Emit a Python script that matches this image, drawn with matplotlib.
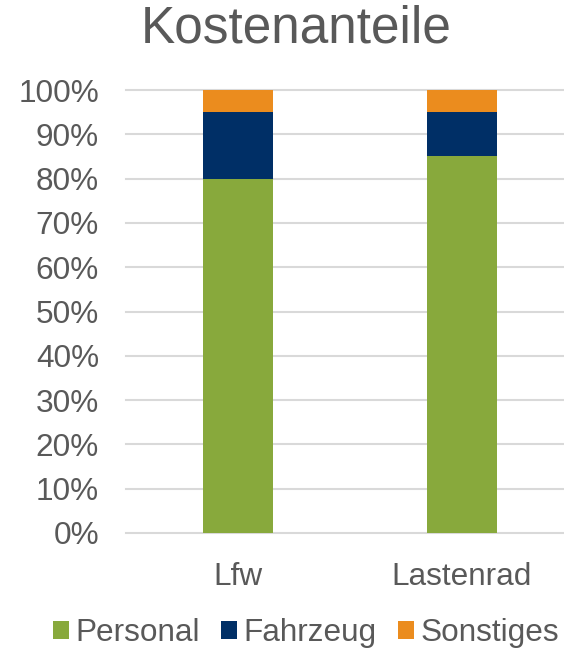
import matplotlib
matplotlib.use("Agg")
import matplotlib.pyplot as plt
from matplotlib.patches import Patch
from matplotlib.ticker import PercentFormatter

plt.rcParams['font.family'] = ['Liberation Sans', 'DejaVu Sans']

categories = ["Lfw", "Lastenrad"]
series_names = ["Personal", "Fahrzeug", "Sonstiges"]
personal = [0.80, 0.85]
fahrzeug = [0.15, 0.10]
sonstiges = [0.05, 0.05]
colors = ["#88A93C", "#002F66", "#EB8C1E"]
yticks = [0, 0.1, 0.2, 0.3, 0.4, 0.5, 0.6, 0.7, 0.8, 0.9, 1.0]

TXT = "#595959"
W, H = 564, 648
fig = plt.figure(figsize=(W / 100, H / 100), dpi=100)
ax = fig.add_axes([126 / W, 1 - 533 / H, 1 - 126 / W, (533 - 90) / H])

x = list(range(len(categories)))
bw = 0.3125
bottom = [0.0] * len(categories)
for vals, col in zip([personal, fahrzeug, sonstiges], colors):
    ax.bar(x, vals, width=bw, bottom=bottom, color=col, zorder=3)
    bottom = [b + v for b, v in zip(bottom, vals)]

ax.set_xlim(-0.5, -0.5 + 438 / 224)
ax.set_ylim(0, 1.0)
ax.set_yticks(yticks)
ax.yaxis.set_major_formatter(PercentFormatter(1.0, decimals=0))
ax.set_xticks(x)
ax.set_xticklabels(categories)
for s in ax.spines.values():
    s.set_visible(False)
ax.tick_params(axis='both', length=0, labelsize=22.7, labelcolor=TXT)
ax.tick_params(axis='y', pad=19.5)
ax.tick_params(axis='x', pad=21)
ax.yaxis.grid(True, color="#D9D9D9", linewidth=1.5, zorder=0)
ax.set_axisbelow(True)
for gl in ax.get_ygridlines():
    gl.set_clip_on(False)

fig.text(296 / W, 1 - 29 / H, "Kostenanteile", ha='center', va='center',
         fontsize=37, color=TXT)

handles = [Patch(facecolor=c, edgecolor='none', label=n) for c, n in zip(colors, series_names)]
fig.legend(handles=handles, loc='center', bbox_to_anchor=(306 / W, 1 - 633 / H), ncol=3,
           frameon=False, fontsize=22.7, labelcolor=TXT, handlelength=0.5,
           handleheight=0.5, handletextpad=0.2, columnspacing=0.68, borderpad=0)

fig.savefig("out.png", dpi=100)
